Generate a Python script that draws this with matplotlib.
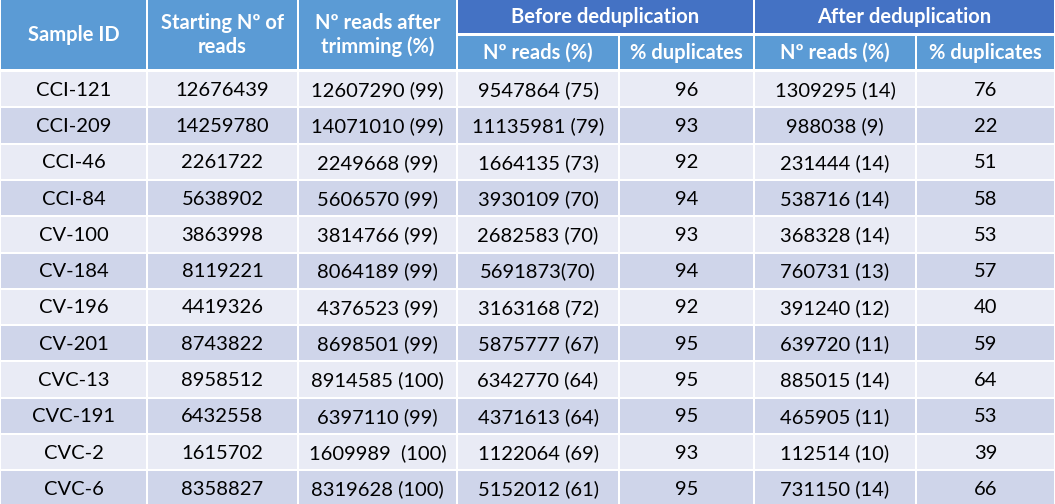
import matplotlib
matplotlib.use("Agg")
from matplotlib import pyplot as plt
from matplotlib.patches import Rectangle

# Table contents
sample_ids = ["CCI-121", "CCI-209", "CCI-46", "CCI-84", "CV-100", "CV-184",
              "CV-196", "CV-201", "CVC-13", "CVC-191", "CVC-2", "CVC-6"]
starting_reads = ["12676439", "14259780", "2261722", "5638902", "3863998", "8119221",
                  "4419326", "8743822", "8958512", "6432558", "1615702", "8358827"]
trimmed_reads = ["12607290 (99)", "14071010 (99)", "2249668 (99)", "5606570 (99)",
                 "3814766 (99)", "8064189 (99)", "4376523 (99)", "8698501 (99)",
                 "8914585 (100)", "6397110 (99)", "1609989  (100)", "8319628 (100)"]
before_reads = ["9547864 (75)", "11135981 (79)", "1664135 (73)", "3930109 (70)",
                "2682583 (70)", "5691873(70)", "3163168 (72)", "5875777 (67)",
                "6342770 (64)", "4371613 (64)", "1122064 (69)", "5152012 (61)"]
before_dups = ["96", "93", "92", "94", "93", "94", "92", "95", "95", "95", "93", "95"]
after_reads = ["1309295 (14)", "988038 (9)", "231444 (14)", "538716 (14)",
               "368328 (14)", "760731 (13)", "391240 (12)", "639720 (11)",
               "885015 (14)", "465905 (11)", "112514 (10)", "731150 (14)"]
after_dups = ["76", "22", "51", "58", "53", "57", "40", "59", "64", "53", "39", "66"]

columns = [sample_ids, starting_reads, trimmed_reads, before_reads,
           before_dups, after_reads, after_dups]
top_headers = ["Sample ID", "Starting Nº of\nreads", "Nº reads after\ntrimming (%)"]
groups = ["Before deduplication", "After deduplication"]
sub_headers = ["Nº reads (%)", "% duplicates", "Nº reads (%)", "% duplicates"]

# colours
light_blue = "#5B9BD5"
dark_blue = "#4472C4"
row_light = "#E9EBF5"
row_dark = "#CFD5EA"

W, H = 1055, 504
edges = [0, 147, 298, 457, 619, 754, 916, 1055]
row_top = 72
row_h = 36.3
font = "Lato"
fs = 14.5

fig = plt.figure(figsize=(W / 100, H / 100), dpi=100)
ax = fig.add_axes([0, 0, 1, 1])
ax.set_xlim(0, W)
ax.set_ylim(H, 0)
ax.axis("off")
fig.patch.set_facecolor("white")


def cell(x0, x1, y0, y1, color):
    ax.add_patch(Rectangle((x0, y0), x1 - x0, y1 - y0, facecolor=color,
                           edgecolor="none"))


# left headers spanning both header rows
for i, label in enumerate(top_headers):
    x0, x1 = edges[i] + 1, edges[i + 1] - 1
    cell(x0, x1, 0, 69, light_blue)
    ax.text((x0 + x1) / 2, 35, label, ha="center", va="center", color="white",
            fontsize=fs, fontweight="bold", family=font, linespacing=1.2)

# grouped headers
for g, label in enumerate(groups):
    x0, x1 = edges[3 + 2 * g] + 1, edges[5 + 2 * g] - 1
    cell(x0, x1, 0, 33, dark_blue)
    ax.text((x0 + x1) / 2, 17, label, ha="center", va="center", color="white",
            fontsize=fs, fontweight="bold", family=font)

for j, label in enumerate(sub_headers):
    x0, x1 = edges[3 + j] + 1, edges[4 + j] - 1
    cell(x0, x1, 36, 69, light_blue)
    ax.text((x0 + x1) / 2, 53, label, ha="center", va="center", color="white",
            fontsize=fs, fontweight="bold", family=font)

# data rows
for r in range(len(sample_ids)):
    y0 = row_top + r * row_h
    y1 = min(y0 + row_h - 2, H)
    color = row_light if r % 2 == 0 else row_dark
    for c, col in enumerate(columns):
        x0, x1 = edges[c] + 1, edges[c + 1] - 1
        cell(x0, x1, y0, y1, color)
        ax.text((x0 + x1) / 2, y0 + (row_h - 2) / 2 + 1, col[r], ha="center",
                va="center", color="black", fontsize=fs, family=font)

fig.savefig("out.png", dpi=100)
